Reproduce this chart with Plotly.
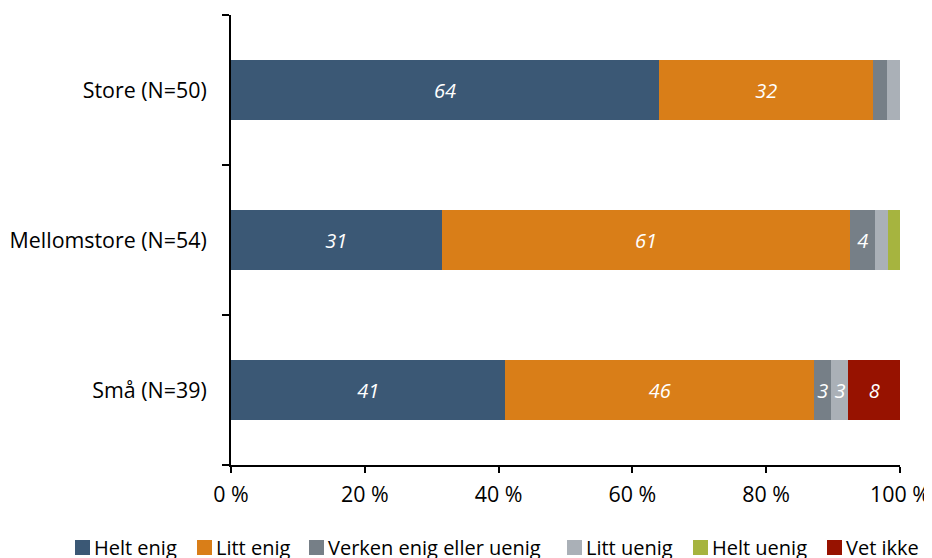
import plotly.graph_objects as go

categories = ["Store (N=50)", "Mellomstore (N=54)", "Små (N=39)"]
series_names = ["Helt enig", "Litt enig", "Verken enig eller uenig", "Litt uenig", "Helt uenig", "Vet ikke"]
helt_enig = [64.0, 31.48, 41.03]
litt_enig = [32.0, 61.11, 46.15]
verken = [2.0, 3.70, 2.56]
litt_uenig = [2.0, 1.85, 2.56]
helt_uenig = [0.0, 1.85, 0.0]
vet_ikke = [0.0, 0.0, 7.69]
colors = ["#3B5875", "#D97E18", "#767F87", "#AAB0B7", "#A6B43F", "#971200"]
x_ticks = [0, 20, 40, 60, 80, 100]

series = [helt_enig, litt_enig, verken, litt_uenig, helt_uenig, vet_ikke]

FONT = "Open Sans"
FS = 21.4
LFS = 20
# page body has an 8px margin, so the figure is placed 8px in
OFF = 8
W, H = 924, 550
L, R, T, B = 223, 32, 7, 93
pw, ph = W - L - R, H - T - B


def px(x):  # screen pixel x -> paper
    return (x - OFF - L) / pw


def py(y):  # screen pixel y -> paper
    return (H - B - (y - OFF)) / ph


fig = go.Figure()
for name, vals, col in zip(series_names, series, colors):
    labels = [f"{int(v + 0.5)}" if v >= 2.5 else "" for v in vals]
    fig.add_trace(go.Bar(
        name=name, y=categories, x=vals, orientation="h",
        marker=dict(color=col, line=dict(width=0)),
        text=labels, textposition="inside", insidetextanchor="middle",
        textangle=0,
        textfont=dict(family=FONT, size=LFS, color="white", style="italic"),
        cliponaxis=False, showlegend=False,
    ))

# Legend drawn as squares + labels in one row below the plot
legend_square_x = [75, 197, 309, 567, 693, 827]
SQ = 15
for name, col, sx in zip(series_names, colors, legend_square_x):
    fig.add_shape(type="rect", xref="paper", yref="paper",
                  x0=px(sx), x1=px(sx + SQ), y0=py(555), y1=py(540),
                  fillcolor=col, line=dict(width=0))
    fig.add_annotation(text=name, xref="paper", yref="paper",
                       x=px(sx + SQ + 3), y=py(547.5), xanchor="left", yanchor="middle",
                       showarrow=False, borderpad=0,
                       font=dict(family=FONT, size=LFS, color="#000000"))

fig.update_layout(
    barmode="stack", bargap=0.6,
    width=W, height=H,
    margin=dict(l=L, r=R, t=T, b=B, autoexpand=False),
    plot_bgcolor="white", paper_bgcolor="white",
    font=dict(family=FONT, size=FS, color="#000000"),
    uniformtext=dict(minsize=LFS, mode="show"),
    showlegend=False,
    xaxis=dict(range=[0, 100], tickvals=x_ticks, ticktext=[f"{t} %" for t in x_ticks],
               showgrid=False, zeroline=False, showline=True, linecolor="black", linewidth=2,
               ticks="outside", ticklen=6, tickwidth=2, tickcolor="black",
               tickfont=dict(size=FS), automargin=False, ticklabelstandoff=3),
    yaxis=dict(categoryorder="array", categoryarray=categories[::-1],
               showgrid=False, showline=True, linecolor="black", linewidth=2,
               ticks="outside", tickson="boundaries", ticklen=7, tickwidth=2, tickcolor="black",
               tickfont=dict(size=FS), automargin=False, ticklabelstandoff=18),
)

fig.write_html("out.html")
